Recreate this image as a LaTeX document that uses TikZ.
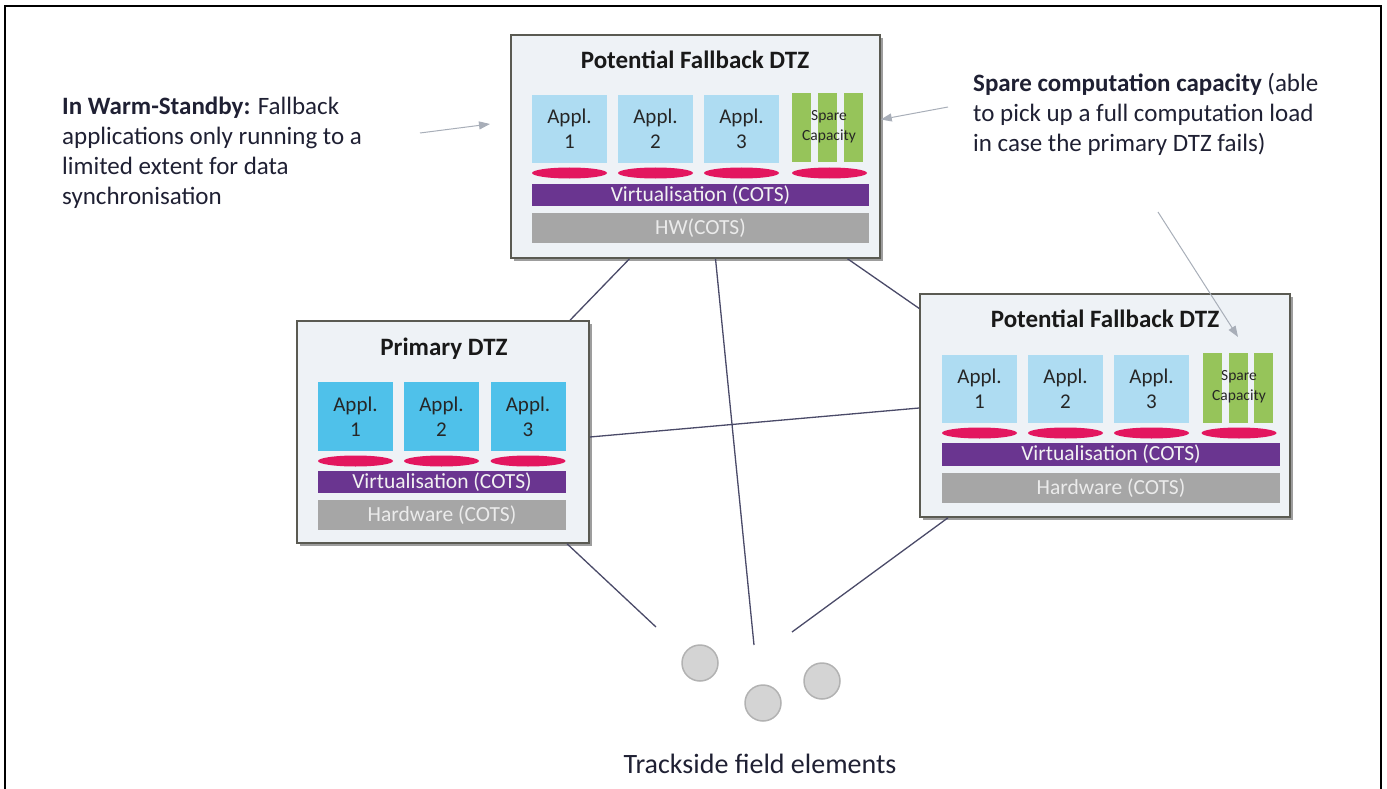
\documentclass[tikz,border=0pt]{standalone}
\usepackage{fontspec}
\setmainfont{Carlito}
\usetikzlibrary{arrows.meta,shadows,shapes.geometric}

\definecolor{boxbg}{HTML}{EEF2F6}
\definecolor{boxedge}{HTML}{5A5A52}
\definecolor{applprim}{HTML}{4FC1EA}
\definecolor{applfb}{HTML}{AEDCF2}
\definecolor{sparegreen}{HTML}{96C45A}
\definecolor{diskred}{HTML}{E3165F}
\definecolor{virtpurple}{HTML}{6A3590}
\definecolor{hwgray}{HTML}{A6A6A6}
\definecolor{linknavy}{HTML}{4A4A68}
\definecolor{notegray}{HTML}{A8AEB8}
\definecolor{notetext}{HTML}{1F2033}

\tikzset{
  dtz/.style={draw=boxedge, line width=1.5pt, fill=boxbg, minimum height=223pt,
    inner sep=0pt, drop shadow={shadow xshift=3pt, shadow yshift=-3pt, opacity=0.55, fill=black!70}},
  dtztitle/.style={anchor=base, font=\fontsize{25}{29}\selectfont\bfseries, text=black!90},
  applbox/.style={minimum width=75pt, minimum height=68pt, inner sep=0pt, align=center,
    font=\fontsize{21}{25}\selectfont, text=black!85},
  sparebar/.style={fill=sparegreen, minimum width=19pt, minimum height=69pt, inner sep=0pt},
  sparetext/.style={align=center, font=\fontsize{15.5}{20}\selectfont, text=black!85},
  disk/.style={ellipse, fill=diskred, minimum width=75pt, minimum height=11pt, inner sep=0pt},
  virt/.style={fill=virtpurple, minimum height=22pt, inner sep=0pt, text=white!95!black,
    font=\fontsize{21.5}{25}\selectfont},
  hwbar/.style={fill=hwgray, minimum height=30pt, inner sep=0pt, text=white!92!black,
    font=\fontsize{21.5}{25}\selectfont},
  elem/.style={circle, fill=black!17, draw=black!30, line width=1.5pt, minimum size=36pt, inner sep=0pt},
  link/.style={draw=linknavy, line width=1.3pt},
  notearrow/.style={draw=notegray, line width=1pt, -{Triangle[length=11pt, width=8pt]}},
  note/.style={anchor=north west, align=left, inner sep=0pt, text=notetext,
    font=\fontsize{25}{30}\selectfont}
}

\begin{document}
\begin{tikzpicture}[x=1pt, y=-1pt]
    \useasboundingbox (0,0) rectangle (1387,789);

    % Frame (open at the bottom)
    \draw[line width=1.5pt] (5,789) -- (5,6) -- (1381,6) -- (1381,789);

    % Top DTZ (potential fallback)
    \node[dtz, minimum width=369pt] (top) at (695.5,146.5) {};
    \node[dtztitle] (toptitle) at (695,69) {Potential Fallback DTZ};
    \foreach \i/\x in {1/569.5, 2/655.5, 3/741.5}
        \node[applbox, fill=applfb] (top-a\i) at (\x,129) {Appl.\\\i};
    \foreach \i/\x in {1/801.5, 2/827.5, 3/853.5}
        \node[sparebar] (top-s\i) at (\x,127.5) {};
    \node[sparetext] (top-spare) at (829,127) {Spare\\Capacity};
    \foreach \i/\x in {1/569.5, 2/655.5, 3/741.5, 4/829.5}
        \node[disk] (top-d\i) at (\x,173) {};
    \node[virt, minimum width=337pt] (top-virt) at (700.5,195) {Virtualisation (COTS)};
    \node[hwbar, minimum width=337pt] (top-hw) at (700.5,228) {HW(COTS)};

    % Primary DTZ
    \node[dtz, minimum width=292pt, minimum height=222pt] (primary) at (443,432) {};
    \node[dtztitle] (primtitle) at (444,355) {Primary DTZ};
    \foreach \i/\x in {1/355.5, 2/441.5, 3/528}
        \node[applbox, fill=applprim, minimum height=69pt] (prim-a\i) at (\x,416.5) {Appl.\\\i};
    \foreach \i/\x in {1/355.5, 2/441.5, 3/528}
        \node[disk] (prim-d\i) at (\x,461) {};
    \node[virt, minimum width=248pt] (prim-virt) at (442,482) {Virtualisation (COTS)};
    \node[hwbar, minimum width=248pt] (prim-hw) at (442,515) {Hardware (COTS)};

    % Right DTZ (potential fallback)
    \node[dtz, minimum width=370pt] (right) at (1105,405.5) {};
    \node[dtztitle] (righttitle) at (1105,327) {Potential Fallback DTZ};
    \foreach \i/\x in {1/979.5, 2/1065.5, 3/1151.5}
        \node[applbox, fill=applfb] (right-a\i) at (\x,389) {Appl.\\\i};
    \foreach \i/\x in {1/1212.5, 2/1238.5, 3/1263.5}
        \node[sparebar, minimum height=70pt] (right-s\i) at (\x,388) {};
    \node[sparetext] (right-spare) at (1239,387) {Spare\\Capacity};
    \foreach \i/\x in {1/979.5, 2/1065.5, 3/1151.5, 4/1239}
        \node[disk] (right-d\i) at (\x,433) {};
    \node[virt, minimum width=338pt, minimum height=23pt] (right-virt) at (1111,454.5) {Virtualisation (COTS)};
    \node[hwbar, minimum width=338pt] (right-hw) at (1111,488) {Hardware (COTS)};

    % Trackside field elements
    \node[elem] (el1) at (700,663) {};
    \node[elem] (el2) at (763,703) {};
    \node[elem] (el3) at (822,681) {};
    \node[anchor=base, font=\fontsize{28}{32}\selectfont, text=notetext] (fieldlabel) at (760,773) {Trackside field elements};
    \coordinate (fe-left) at (656,627);
    \coordinate (fe-mid) at (754,645);
    \coordinate (fe-right) at (792,632);

    % Links between the DTZs and to the field
    \draw[link] ([xshift=-66pt]top.south) -- ([xshift=127pt]primary.north);
    \draw[link] ([xshift=20pt]top.south) -- (fe-mid);
    \draw[link] ([xshift=152pt]top.south) -- ([yshift=97pt]right.west);
    \draw[link] ([yshift=-5pt]primary.east) -- ([yshift=-2.5pt]right.west);
    \draw[link] ([xshift=124pt]primary.south) -- (fe-left);
    \draw[link] ([xshift=-157pt]right.south) -- (fe-right);

    % Annotations
    \node[note] (warmnote) at (62,97) {\textbf{In Warm-Standby:} Fallback\\applications only running to a\\limited extent for data\\synchronisation};
    \node[note] (sparenote) at (973,73) {\textbf{Spare computation capacity} (able\\to pick up a full computation load\\in case the primary DTZ fails)};
    \coordinate (warm-from) at (420,133);
    \coordinate (warm-to) at (490,124);
    \coordinate (spare-from) at (948,107);
    \coordinate (spare2-from) at (1158,212);
    \coordinate (spare2-to) at (1238,337);
    \draw[notearrow] (warm-from) -- (warm-to);
    \draw[notearrow] (spare-from) -- ([yshift=27pt]top.east);
    \draw[notearrow] (spare2-from) -- (spare2-to);
\end{tikzpicture}
\end{document}
